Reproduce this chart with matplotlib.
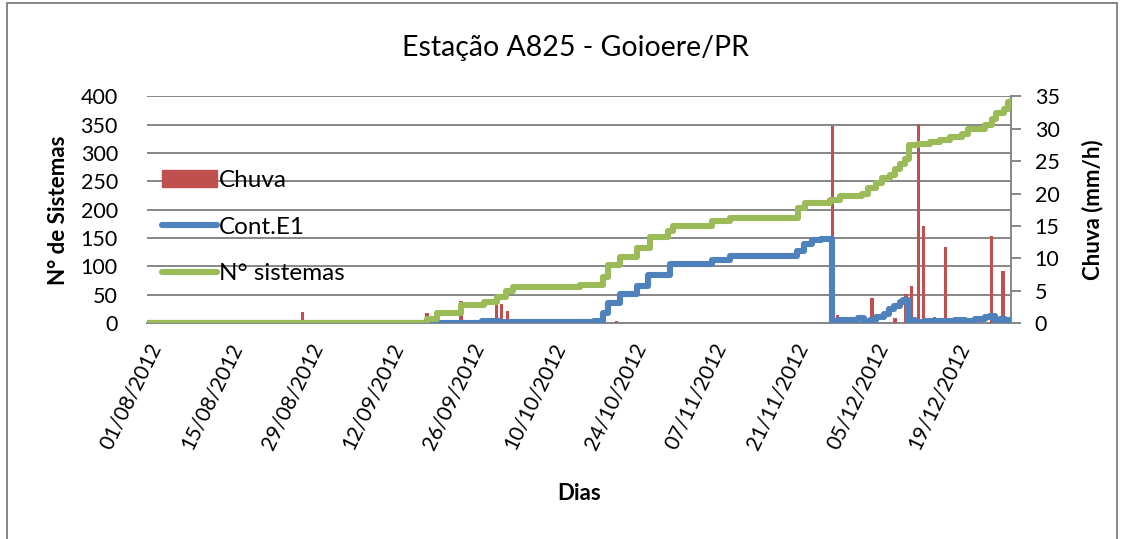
import matplotlib as mpl
mpl.use('Agg')
import matplotlib.pyplot as plt
import matplotlib.patches as mpatches
from matplotlib.lines import Line2D
import numpy as np
import pandas as pd

plt.rcParams['font.family'] = ['Lato', 'DejaVu Sans']

inicio = pd.Timestamp('2012-08-01')
fim_dias = 149.7

# N° sistemas (acumulado) - dias desde 01/08/2012
dias_sist = [0, 48.5, 50.3, 54.4, 58.4, 60.7, 62.2, 63.4, 75.0, 79.0, 79.9, 82.0,
             84.9, 87.2, 90.3, 91.2, 97.9, 101.0, 112.8, 114.0, 118.4, 120.1,
             123.9, 125.0, 126.3, 127.4, 128.8, 129.6, 130.5, 131.4, 132.1, 133.6,
             135.7, 137.4, 139.2, 141.2, 142.3, 145.2, 146.4, 147.1, 148.4, 149.2, 149.7]
n_sist = [0, 7, 18, 32, 38, 46, 56, 63, 67, 82, 103, 116,
          132, 152, 162, 172, 181, 185, 203, 212, 217, 224,
          228, 238, 248, 256, 262, 272, 280, 290, 314, 316,
          320, 324, 328, 333, 342, 350, 360, 370, 378, 390, 392]

# Cont.E1
dias_e1 = [0, 58.0, 61.0, 75.5, 77.5, 79.0, 79.9, 82.0, 84.9, 86.8, 90.6, 97.9,
           101.0, 112.7, 113.8, 115.3, 116.7, 118.7, 120.1, 121.8, 123.2, 124.3,
           125.3, 126.3, 127.7, 128.6, 129.5, 130.4, 131.0, 131.9, 132.6, 133.1,
           134.8, 137.4, 140.0, 141.8, 143.5, 145.2, 146.1, 147.0, 147.8, 148.6,
           149.3, 149.7]
cont_e1 = [0, 4, 1, 2, 3, 18, 35, 51, 65, 85, 105, 112,
           118, 128, 140, 146, 148, 3, 5, 6, 9, 2,
           6, 10, 16, 24, 30, 37, 40, 2, 6, 2,
           3, 4, 5, 3, 7, 10, 12, 4, 7, 2,
           6, 6]

# Chuva (mm/h)
dias_chuva = [26.9, 48.5, 54.4, 55.6, 60.5, 61.4, 62.4, 63.4, 81.3, 118.7, 119.6,
              125.6, 129.6, 131.5, 132.5, 133.6, 134.5, 136.4, 138.4, 146.3, 148.3]
chuva = [1.7, 1.6, 3.4, 0.5, 3.0, 2.9, 1.8, 0.6, 0.3, 30.4, 1.2,
         3.9, 0.8, 4.5, 5.7, 30.8, 15.0, 0.9, 11.8, 13.4, 8.1]

def to_dates(d):
    return inicio + pd.to_timedelta(np.array(d), unit='D')

azul = '#4F81BD'
verde = '#9BBB59'
vermelho = '#C0504D'
cinza = '#868686'
lw_serie = 4.4

fig = plt.figure(figsize=(11.25, 5.39), dpi=100)
ax = fig.add_axes([0.1307, 0.4007, 0.768, 0.4203])
ax2 = ax.twinx()
ax3 = ax.twinx()
ax.set_zorder(1)
ax2.set_zorder(2)
ax3.set_zorder(3)
ax2.patch.set_visible(False)
ax3.patch.set_visible(False)

# grade e eixo esquerdo
ax.set_ylim(0, 400)
ax.set_yticks(range(0, 401, 50))
ax.yaxis.grid(True, color=cinza, lw=1.4)
ax.set_axisbelow(True)
for s in ['left', 'top', 'right']:
    ax.spines[s].set_visible(False)
ax.spines['bottom'].set_color(cinza)
ax.spines['bottom'].set_linewidth(1.4)
ax.tick_params(axis='y', length=0, pad=21, labelsize=15.5)
ax.set_ylabel('N° de Sistemas', fontsize=16, fontweight='bold', labelpad=8)

xi = to_dates([0])[0]
xf = to_dates([fim_dias])[0]
ax.set_xlim(xi, xf)
ticks = pd.date_range('2012-08-01', '2012-12-19', freq='14D')
ax.set_xticks(ticks)
ax.set_xticklabels([t.strftime('%d/%m/%Y') for t in ticks], rotation=64,
                   ha='right', rotation_mode='anchor', fontsize=15)
ax.tick_params(axis='x', length=0, pad=12)
ax.set_xlabel('Dias', fontsize=16, fontweight='bold', labelpad=22)

# chuva no eixo direito
ax2.bar(to_dates(dias_chuva), chuva, width=0.55, color=vermelho, align='center')
ax2.set_ylim(0, 35)
ax2.set_yticks(range(0, 36, 5))
for s in ['left', 'top', 'bottom']:
    ax2.spines[s].set_visible(False)
ax2.spines['right'].set_color(cinza)
ax2.spines['right'].set_linewidth(1.4)
ax2.tick_params(axis='y', length=7, width=1.4, color=cinza, pad=10, labelsize=15.5)
ax2.set_ylabel('Chuva (mm/h)', fontsize=16, fontweight='bold', labelpad=16)

# series de sistemas
ax3.plot(to_dates(dias_e1), cont_e1, drawstyle='steps-post', color=azul, lw=lw_serie,
         solid_joinstyle='round', solid_capstyle='round')
ax3.plot(to_dates(dias_sist), n_sist, drawstyle='steps-post', color=verde, lw=lw_serie,
         solid_joinstyle='round', solid_capstyle='round')
ax3.set_ylim(0, 400)
ax3.set_xlim(xi, xf)
ax3.set_yticks([])
for s in ax3.spines.values():
    s.set_visible(False)

handles = [mpatches.Patch(color=vermelho),
           Line2D([], [], color=azul, lw=lw_serie, solid_capstyle='round'),
           Line2D([], [], color=verde, lw=lw_serie, solid_capstyle='round')]
ax3.legend(handles, ['Chuva', 'Cont.E1', 'N° sistemas'], loc='upper left',
           bbox_to_anchor=(162 / 1125, 1 - 170 / 539), bbox_transform=fig.transFigure,
           frameon=False, fontsize=17.5, handlelength=2.25, handletextpad=0.1,
           labelspacing=1.05, borderpad=0, borderaxespad=0)

fig.suptitle('Estação A825 - Goioere/PR', fontsize=20.5, x=0.512, y=0.935)

# moldura do gráfico
fig.patches.append(mpatches.Rectangle((7 / 1125, -0.02), 1110 / 1125, 1.015,
                                      transform=fig.transFigure, fill=False,
                                      edgecolor=cinza, lw=1.4))

fig.savefig('out.png', dpi=100)
plt.close()
